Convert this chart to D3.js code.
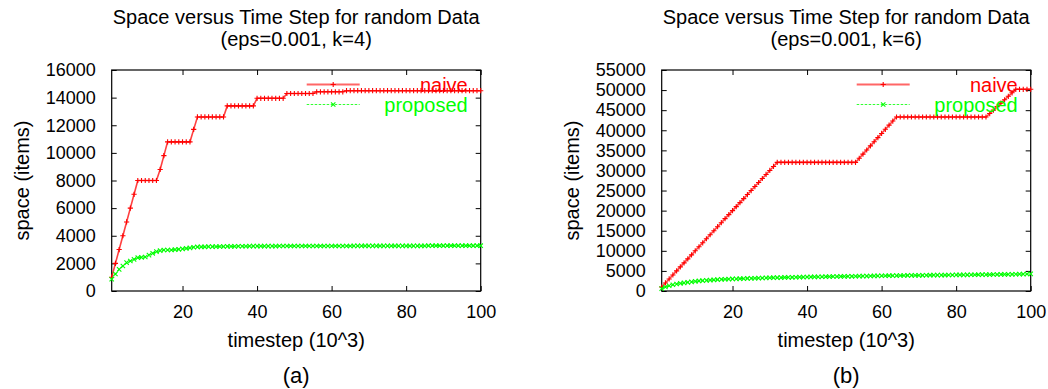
<!DOCTYPE html>
<html>
<head>
<meta charset="utf-8">
<script src="https://cdn.jsdelivr.net/npm/d3@7"></script>
<style>
  body { margin: 0; background: #fff; }
  svg { display: block; }
  text { font-family: 'Liberation Sans', Arial, Helvetica, sans-serif; }
</style>
</head>
<body>
<div id="chart"></div>
<script>
// Time steps (10^3), one point per step
let timesteps = d3.range(1, 101);

// Panel (a): eps=0.001, k=4
let naiveK4 = [
  1000, 2000, 3000, 4000, 5000, 6000, 7000, 8000, 8000, 8000,
  8000, 8000, 8000, 8800, 9800, 10800, 10800, 10800, 10800, 10800,
  10800, 10800, 11700, 12600, 12600, 12600, 12600, 12600, 12600, 12600,
  12600, 13400, 13400, 13400, 13400, 13400, 13400, 13400, 13400, 13950,
  13950, 13950, 13950, 13950, 13950, 13950, 13950, 14300, 14300, 14300,
  14300, 14300, 14300, 14300, 14300, 14420, 14420, 14420, 14420, 14420,
  14420, 14420, 14420, 14500, 14500, 14500, 14500, 14500, 14500, 14500,
  14500, 14500, 14500, 14500, 14500, 14500, 14500, 14500, 14500, 14500,
  14500, 14500, 14500, 14500, 14500, 14500, 14500, 14500, 14500, 14500,
  14500, 14500, 14500, 14500, 14500, 14500, 14500, 14500, 14500, 14500
];
let proposedK4 = [
  850, 1230, 1570, 1810, 2050, 2170, 2290, 2410, 2440, 2460,
  2600, 2730, 2850, 2920, 2970, 2970, 2970, 3000, 3020, 3050,
  3080, 3120, 3170, 3190, 3200, 3200, 3210, 3210, 3210, 3220,
  3220, 3230, 3230, 3230, 3240, 3240, 3240, 3250, 3250, 3250,
  3250, 3250, 3250, 3250, 3250, 3260, 3260, 3260, 3260, 3260,
  3260, 3260, 3260, 3260, 3260, 3260, 3260, 3260, 3260, 3260,
  3260, 3260, 3260, 3260, 3260, 3270, 3270, 3270, 3270, 3270,
  3270, 3270, 3270, 3270, 3270, 3270, 3270, 3270, 3270, 3270,
  3270, 3270, 3270, 3270, 3270, 3280, 3280, 3280, 3280, 3280,
  3280, 3280, 3280, 3280, 3280, 3280, 3280, 3280, 3280, 3280
];

// Panel (b): eps=0.001, k=6
let naiveK6 = [
  1000, 2000, 3000, 4000, 5000, 6000, 7000, 8000, 9000, 10000,
  11000, 12000, 13000, 14000, 15000, 16000, 17000, 18000, 19000, 20000,
  21000, 22000, 23000, 24000, 25000, 26000, 27000, 28000, 29000, 30000,
  31000, 32000, 32000, 32000, 32000, 32000, 32000, 32000, 32000, 32000,
  32000, 32000, 32000, 32000, 32000, 32000, 32000, 32000, 32000, 32000,
  32000, 32000, 32000, 33030, 34060, 35090, 36120, 37150, 38180, 39210,
  40240, 41270, 42300, 43300, 43300, 43300, 43300, 43300, 43300, 43300,
  43300, 43300, 43300, 43300, 43300, 43300, 43300, 43300, 43300, 43300,
  43300, 43300, 43300, 43300, 43300, 43300, 43300, 43300, 44160, 45020,
  45880, 46740, 47600, 48460, 49320, 50200, 50200, 50200, 50200, 50200
];
let proposedK6 = [
  600, 1000, 1300, 1550, 1750, 1900, 2030, 2150, 2280, 2400,
  2500, 2580, 2650, 2720, 2790, 2850, 2890, 2930, 2970, 3000,
  3030, 3060, 3090, 3120, 3150, 3180, 3200, 3230, 3260, 3290,
  3310, 3330, 3350, 3370, 3390, 3410, 3430, 3450, 3470, 3490,
  3500, 3510, 3520, 3540, 3560, 3580, 3600, 3610, 3620, 3640,
  3650, 3660, 3670, 3690, 3710, 3720, 3740, 3760, 3770, 3790,
  3800, 3810, 3820, 3830, 3850, 3860, 3870, 3880, 3890, 3900,
  3910, 3920, 3930, 3940, 3950, 3960, 3970, 3980, 3990, 4000,
  4010, 4020, 4030, 4040, 4050, 4060, 4070, 4080, 4090, 4100,
  4110, 4120, 4130, 4140, 4150, 4170, 4190, 4210, 4230, 4250
];

// Tick values
let xTicks = [20, 40, 60, 80, 100];
let yTicksK4 = [0, 2000, 4000, 6000, 8000, 10000, 12000, 14000, 16000];
let yTicksK6 = [0, 5000, 10000, 15000, 20000, 25000, 30000, 35000, 40000, 45000, 50000, 55000];

let seriesNames = ['naive', 'proposed'];
let titleLine1 = 'Space versus Time Step for random Data';

let svg = d3.select('#chart')
  .append('svg')
  .attr('width', 1048)
  .attr('height', 389);

// Draws one gnuplot-like panel
function drawPanel(left, opts) {
  let margin = { top: 70, left: left };
  let width = 369;
  let height = 221;

  let g = svg.append('g')
    .attr('transform', `translate(${margin.left}, ${margin.top})`);

  let x = d3.scaleLinear().domain([1, 100]).range([0, width]);
  let y = d3.scaleLinear().domain([0, opts.yMax]).range([height, 0]);

  // Titles
  g.append('text')
    .attr('x', width / 2).attr('y', -46)
    .attr('text-anchor', 'middle')
    .attr('font-size', '20px')
    .text(titleLine1);
  g.append('text')
    .attr('x', width / 2).attr('y', -24)
    .attr('text-anchor', 'middle')
    .attr('font-size', '20px')
    .text(opts.subtitle);

  // Axes with inward ticks, mirrored on all sides
  let tickLen = 5;
  let fmt = d3.format('d');
  let bottom = g.append('g')
    .attr('transform', `translate(0, ${height})`)
    .call(d3.axisBottom(x).tickValues(xTicks).tickFormat(fmt).tickSizeInner(-tickLen).tickSizeOuter(0).tickPadding(14));
  let top = g.append('g')
    .call(d3.axisTop(x).tickValues(xTicks).tickSizeInner(-tickLen).tickSizeOuter(0).tickFormat(''));
  let leftAx = g.append('g')
    .call(d3.axisLeft(y).tickValues(opts.yTicks).tickFormat(fmt).tickSizeInner(-tickLen).tickSizeOuter(0).tickPadding(16));
  let rightAx = g.append('g')
    .attr('transform', `translate(${width}, 0)`)
    .call(d3.axisRight(y).tickValues(opts.yTicks).tickSizeInner(-tickLen).tickSizeOuter(0).tickFormat(''));

  [bottom, top, leftAx, rightAx].forEach(a => {
    a.select('.domain').remove();
    a.selectAll('line').attr('stroke', '#000');
    a.selectAll('text')
      .attr('fill', '#000')
      .attr('font-size', '18px')
      .attr('font-family', "'Liberation Sans', Arial, sans-serif");
  });

  // Frame
  g.append('rect')
    .attr('width', width).attr('height', height)
    .attr('fill', 'none')
    .attr('stroke', '#000')
    .attr('stroke-width', 1.2);

  // Axis labels
  g.append('text')
    .attr('transform', `translate(${opts.yLabelX}, ${height / 2}) rotate(-90)`)
    .attr('text-anchor', 'middle')
    .attr('dy', '0.35em')
    .attr('font-size', '20px')
    .text('space (items)');
  g.append('text')
    .attr('x', width / 2).attr('y', height + 56)
    .attr('text-anchor', 'middle')
    .attr('font-size', '20px')
    .text('timestep (10^3)');

  // Caption
  g.append('text')
    .attr('x', width / 2).attr('y', height + 92)
    .attr('text-anchor', 'middle')
    .attr('font-family', "'Liberation Serif', 'Times New Roman', serif")
    .attr('font-size', '22px')
    .text(opts.caption);

  let line = d3.line()
    .x((d, i) => x(timesteps[i]))
    .y(d => y(d));

  let plot = g.append('g');

  // Naive: solid red with plus markers
  plot.append('path')
    .datum(opts.naive)
    .attr('d', line)
    .attr('fill', 'none')
    .attr('stroke', '#ff0000')
    .attr('stroke-opacity', 0.75)
    .attr('stroke-width', 1.6);
  plot.selectAll('.plus')
    .data(opts.naive)
    .enter()
    .append('path')
    .attr('class', 'plus')
    .attr('d', (d, i) => plusPath(x(timesteps[i]), y(d), 2.6))
    .attr('stroke', '#ff0000')
    .attr('stroke-width', 1.1);

  // Proposed: dashed green with cross markers
  plot.append('path')
    .datum(opts.proposed)
    .attr('d', line)
    .attr('fill', 'none')
    .attr('stroke', '#00ff00')
    .attr('stroke-width', 1.2)
    .attr('stroke-dasharray', '3,2');
  plot.selectAll('.cross')
    .data(opts.proposed)
    .enter()
    .append('path')
    .attr('class', 'cross')
    .attr('d', (d, i) => crossPath(x(timesteps[i]), y(d), 2.2))
    .attr('stroke', '#00ff00')
    .attr('stroke-width', 1.1);

  // Legend
  let legendY = [14.5, 34.5];
  let colors = ['#ff0000', '#00ff00'];
  seriesNames.forEach((name, k) => {
    g.append('line')
      .attr('x1', 195).attr('x2', 248)
      .attr('y1', legendY[k]).attr('y2', legendY[k])
      .attr('stroke', colors[k])
      .attr('stroke-opacity', k === 0 ? 0.6 : 0.8)
      .attr('stroke-width', k === 0 ? 2 : 1.2)
      .attr('stroke-dasharray', k === 1 ? '2.5,1.5' : null);
    g.append('path')
      .attr('d', k === 0 ? plusPath(221.5, legendY[k], 2.6) : crossPath(221.5, legendY[k], 2.2))
      .attr('stroke', colors[k])
      .attr('stroke-width', 1.1);
    g.append('text')
      .attr('x', width - 13).attr('y', legendY[k] + 7)
      .attr('text-anchor', 'end')
      .attr('font-size', '20px')
      .attr('fill', colors[k])
      .text(name);
  });
}

function plusPath(cx, cy, r) {
  return `M${cx - r},${cy}H${cx + r}M${cx},${cy - r}V${cy + r}`;
}
function crossPath(cx, cy, r) {
  return `M${cx - r},${cy - r}L${cx + r},${cy + r}M${cx - r},${cy + r}L${cx + r},${cy - r}`;
}

drawPanel(111.7, {
  yMax: 16000, yTicks: yTicksK4, naive: naiveK4, proposed: proposedK4,
  subtitle: '(eps=0.001, k=4)', caption: '(a)', yLabelX: -90
});
drawPanel(661.7, {
  yMax: 55000, yTicks: yTicksK6, naive: naiveK6, proposed: proposedK6,
  subtitle: '(eps=0.001, k=6)', caption: '(b)', yLabelX: -90
});
</script>
</body>
</html>
